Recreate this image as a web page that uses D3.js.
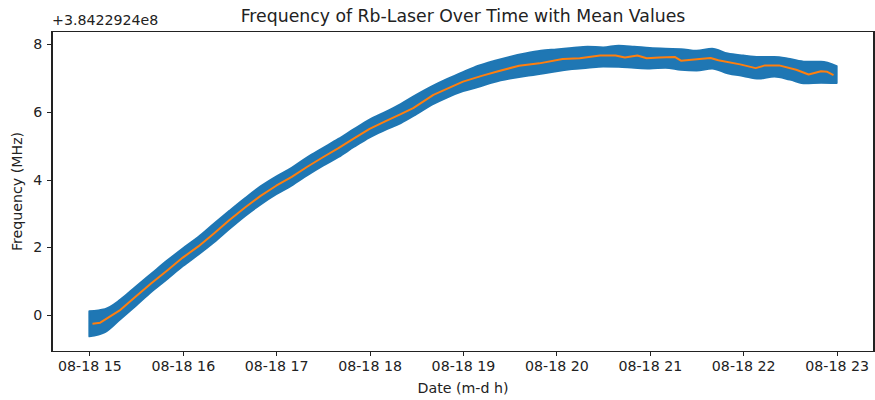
<!DOCTYPE html>
<html>

<head>
    <meta charset="utf-8">
    <script src="https://d3js.org/d3.v7.min.js"></script>
    <style>
      body { margin: 0; background: #fff; }
      text { font-family: "DejaVu Sans", sans-serif; fill: #222; }
      .axis path, .axis line { stroke: #222; shape-rendering: crispEdges; }
      .axis text { font-size: 14.2px; }
    </style>
</head>

<body>
    <script>

        // raw frequency band (every 10 min): upper and lower edge of the noisy trace, MHz above offset
        var bandTimes = ["15:00", "15:10", "15:20", "15:30", "15:40", "15:50", "16:00", "16:10", "16:20", "16:30",
            "16:40", "16:50", "17:00", "17:10", "17:20", "17:30", "17:40", "17:50", "18:00", "18:10",
            "18:20", "18:30", "18:40", "18:50", "19:00", "19:10", "19:20", "19:30", "19:40", "19:50",
            "20:00", "20:10", "20:20", "20:30", "20:40", "20:50", "21:00", "21:10", "21:20", "21:30",
            "21:40", "21:50", "22:00", "22:10", "22:20", "22:30", "22:40", "22:50", "23:00"];
        var bandHigh = [0.12, 0.18, 0.46, 0.85, 1.23, 1.61, 1.97, 2.31, 2.70, 3.08,
            3.45, 3.80, 4.09, 4.35, 4.66, 4.93, 5.20, 5.49, 5.77, 5.99,
            6.23, 6.50, 6.75, 6.97, 7.17, 7.36, 7.50, 7.62, 7.72, 7.80,
            7.84, 7.88, 7.92, 7.90, 7.95, 7.92, 7.88, 7.86, 7.85, 7.80,
            7.86, 7.72, 7.66, 7.62, 7.62, 7.56, 7.48, 7.48, 7.35];
        var bandLow = [-0.62, -0.50, -0.11, 0.29, 0.70, 1.07, 1.45, 1.79, 2.15, 2.55,
            2.93, 3.27, 3.57, 3.83, 4.13, 4.41, 4.67, 4.97, 5.25, 5.47,
            5.67, 5.93, 6.21, 6.43, 6.61, 6.74, 6.88, 6.98, 7.06, 7.12,
            7.20, 7.26, 7.30, 7.34, 7.33, 7.30, 7.28, 7.30, 7.24, 7.22,
            7.28, 7.14, 7.06, 6.98, 7.04, 6.95, 6.84, 6.86, 6.85];

        // mean values
        var meanTimes = ["15:02", "15:07", "15:20", "15:30", "15:40", "15:50", "16:00", "16:10", "16:20", "16:30",
            "16:40", "16:50", "17:00", "17:10", "17:20", "17:30", "17:40", "17:50", "18:00", "18:10",
            "18:20", "18:28", "18:41", "19:00", "19:12", "19:22", "19:36", "19:49", "20:04", "20:15",
            "20:28", "20:38", "20:44", "20:52", "20:58", "21:06", "21:16", "21:20", "21:32", "21:39",
            "21:44", "21:58", "22:08", "22:14", "22:23", "22:34", "22:42", "22:50", "22:54", "22:58"];
        var meanValues = [-0.25, -0.22, 0.16, 0.56, 0.95, 1.32, 1.70, 2.03, 2.41, 2.81,
            3.18, 3.52, 3.82, 4.08, 4.38, 4.66, 4.93, 5.22, 5.50, 5.72,
            5.93, 6.11, 6.50, 6.89, 7.06, 7.19, 7.36, 7.43, 7.56, 7.58,
            7.66, 7.66, 7.60, 7.66, 7.58, 7.60, 7.62, 7.51, 7.56, 7.59,
            7.52, 7.40, 7.29, 7.37, 7.37, 7.24, 7.10, 7.20, 7.18, 7.08];

        var yTicks = [0, 2, 4, 6, 8];
        var xTicks = ["15:00", "16:00", "17:00", "18:00", "19:00", "20:00", "21:00", "22:00", "23:00"];

        var parseTime = d3.timeParse("%Y-%m-%d %H:%M");
        function t(s) { return parseTime("2023-08-18 " + s); }

        var width = 875, height = 400;
        var mLeft = 52, mRight = 874, mTop = 31.5, mBottom = 351.5;

        var svg = d3.select("body").append("svg").attr("width", width).attr("height", height);

        var x = d3.scaleTime().domain([t("14:36"), t("23:24")]).range([mLeft, mRight]);
        var y = d3.scaleLinear().domain([-1.07, 8.37]).range([mBottom, mTop]);

        var band = bandTimes.map(function (d, i) { return { t: t(d), hi: bandHigh[i], lo: bandLow[i] }; });
        var means = meanTimes.map(function (d, i) { return { t: t(d), v: meanValues[i] }; });

        var area = d3.area()
            .x(d => x(d.t))
            .y0(d => y(d.lo))
            .y1(d => y(d.hi))
            .curve(d3.curveMonotoneX);

        svg.append("path")
            .attr("d", area(band))
            .style("fill", "#1f77b4")
            .style("stroke", "#1f77b4")
            .style("stroke-width", 2)
            .style("stroke-linejoin", "round");

        var line = d3.line().x(d => x(d.t)).y(d => y(d.v));

        svg.append("path")
            .attr("d", line(means))
            .style("fill", "none")
            .style("stroke", "#ff7f0e")
            .style("stroke-width", 2)
            .style("stroke-linejoin", "round");

        // axes
        var xAxis = d3.axisBottom(x)
            .tickValues(xTicks.map(t))
            .tickFormat(d3.timeFormat("%m-%d %H"))
            .tickSize(4.9).tickPadding(4.9).tickSizeOuter(0);
        svg.append("g").attr("class", "x axis")
            .attr("transform", "translate(0," + mBottom + ")")
            .call(xAxis);

        var yAxis = d3.axisLeft(y)
            .tickValues(yTicks)
            .tickFormat(d3.format("d"))
            .tickSize(4.9).tickPadding(4.9).tickSizeOuter(0);
        svg.append("g").attr("class", "y axis")
            .attr("transform", "translate(" + mLeft + ",0)")
            .call(yAxis);

        svg.selectAll(".axis path").remove();
        svg.selectAll(".axis text").style("fill", "#222");

        // frame
        svg.append("rect")
            .attr("x", mLeft).attr("y", mTop)
            .attr("width", mRight - mLeft).attr("height", mBottom - mTop)
            .style("fill", "none")
            .style("stroke", "#222")
            .style("stroke-width", 1.1)
            .style("shape-rendering", "crispEdges");

        // texts
        svg.append("text")
            .attr("x", (mLeft + mRight) / 2).attr("y", 22)
            .attr("text-anchor", "middle")
            .style("font-size", "17.3px")
            .text("Frequency of Rb-Laser Over Time with Mean Values");

        svg.append("text")
            .attr("x", mLeft).attr("y", 25)
            .style("font-size", "14.2px")
            .text("+3.8422924e8");

        svg.append("text")
            .attr("x", (mLeft + mRight) / 2).attr("y", 393)
            .attr("text-anchor", "middle")
            .style("font-size", "14.2px")
            .text("Date (m-d h)");

        svg.append("text")
            .attr("transform", "translate(22," + (mTop + mBottom) / 2 + ") rotate(-90)")
            .attr("text-anchor", "middle")
            .style("font-size", "14.2px")
            .text("Frequency (MHz)");

    </script>
</body>

</html>
